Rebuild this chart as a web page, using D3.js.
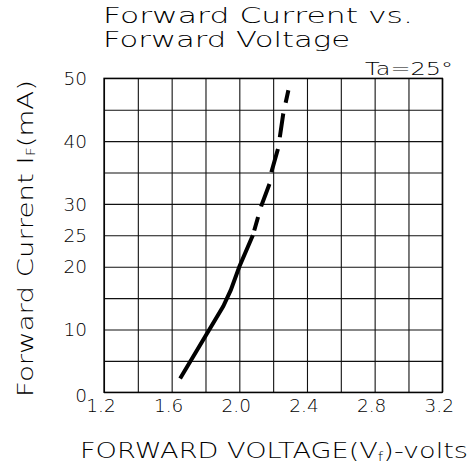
<!DOCTYPE html>
<html>
<head>
<meta charset="utf-8">
<script src="https://cdn.jsdelivr.net/npm/d3@7"></script>
<style>
  html, body { margin: 0; padding: 0; background: #fff; }
  svg { display: block; }
  text { font-family: "DejaVu Sans", sans-serif; font-weight: 200; fill: #000; }
</style>
</head>
<body>
<svg id="chart" width="476" height="468"></svg>
<script>
// Measured I-V curve (solid region, then extrapolated dashed region)
const solidVoltage = [1.65, 1.905, 1.95, 2.00, 2.08];
const solidCurrent = [2.2, 13.7, 16.3, 20.0, 25.0];
const dashVoltage  = [2.08, 2.13, 2.18, 2.19, 2.23, 2.26, 2.29];
const dashCurrent  = [25.0, 29.7, 33.3, 35.1, 38.9, 44.4, 48.1];

// Axis ticks
const xTickValues = [1.2, 1.6, 2.0, 2.4, 2.8, 3.2];
const yTickValues = [0, 10, 20, 25, 30, 40, 50];

const svg = d3.select("#chart");
const plotLeft = 104, plotRight = 442.3, plotTop = 78.3, plotBottom = 392.3;

const x = d3.scaleLinear().domain([1.2, 3.2]).range([plotLeft, plotRight]);
const y = d3.scaleLinear().domain([0, 50]).range([plotBottom, plotTop]);

// Grid: vertical lines every 0.2 V, horizontal every 5 mA
const grid = svg.append("g");
grid.append("g")
  .attr("transform", `translate(0,${plotBottom})`)
  .call(d3.axisBottom(x).tickValues(d3.range(0, 11).map(i => 1.2 + i * 0.2))
        .tickSize(-(plotBottom - plotTop)).tickFormat(""))
  .call(g => g.select(".domain").remove())
  .selectAll("line").attr("stroke", "#111").attr("stroke-width", 1.1);
grid.append("g")
  .attr("transform", `translate(${plotLeft},0)`)
  .call(d3.axisLeft(y).tickValues(d3.range(0, 55, 5))
        .tickSize(-(plotRight - plotLeft)).tickFormat(""))
  .call(g => g.select(".domain").remove())
  .selectAll("line").attr("stroke", "#111").attr("stroke-width", 1.1);
grid.append("rect")
  .attr("x", plotLeft).attr("y", plotTop)
  .attr("width", plotRight - plotLeft).attr("height", plotBottom - plotTop)
  .attr("fill", "none").attr("stroke", "#000").attr("stroke-width", 1.3);

// Tick labels
svg.append("g").selectAll("text").data(xTickValues).join("text")
  .attr("x", d => x(d) - 3).attr("y", 412)
  .attr("text-anchor", "middle").attr("font-size", 18.5)
  .text(d => d.toFixed(1));
svg.append("g").selectAll("text").data(yTickValues).join("text")
  .attr("x", 87).attr("y", d => y(d) + (d === 0 ? 3 : 0))
  .attr("dy", "0.36em")
  .attr("text-anchor", "end").attr("font-size", 18.5)
  .text(d => d);

// Curve
const line = d3.line().x(d => x(d[0])).y(d => y(d[1]));
svg.append("path")
  .datum(d3.zip(solidVoltage, solidCurrent))
  .attr("d", line)
  .attr("fill", "none").attr("stroke", "#000").attr("stroke-width", 4);
svg.append("path")
  .datum(d3.zip(dashVoltage, dashCurrent))
  .attr("d", line)
  .attr("fill", "none").attr("stroke", "#000").attr("stroke-width", 4)
  .attr("stroke-dasharray", "0 5 14 11 24 12 24 12 24 11 24 12");

// Titles
svg.append("text").attr("x", 103).attr("y", 23).attr("font-size", 21)
  .attr("textLength", 310).attr("lengthAdjust", "spacingAndGlyphs")
  .text("Forward Current vs.");
svg.append("text").attr("x", 103).attr("y", 47).attr("font-size", 21)
  .attr("textLength", 247).attr("lengthAdjust", "spacingAndGlyphs")
  .text("Forward Voltage");
svg.append("text").attr("x", 365).attr("y", 75).attr("font-size", 18)
  .attr("textLength", 88).attr("lengthAdjust", "spacingAndGlyphs")
  .text("Ta=25°");

// X axis title
const xt = svg.append("text").attr("x", 80).attr("y", 458).attr("font-size", 21)
  .attr("textLength", 388).attr("lengthAdjust", "spacingAndGlyphs");
xt.append("tspan").text("FORWARD VOLTAGE(V");
xt.append("tspan").attr("font-size", 12).attr("dy", 3).text("f");
xt.append("tspan").attr("dy", -3).text(")-volts");

// Y axis title
const yt = svg.append("text")
  .attr("transform", "translate(33,397) rotate(-90)")
  .attr("font-size", 21)
  .attr("textLength", 317).attr("lengthAdjust", "spacingAndGlyphs");
yt.append("tspan").text("Forward Current I");
yt.append("tspan").attr("font-size", 12).attr("dy", 2).text("F");
yt.append("tspan").attr("dy", -2).text("(mA)");
</script>
</body>
</html>
